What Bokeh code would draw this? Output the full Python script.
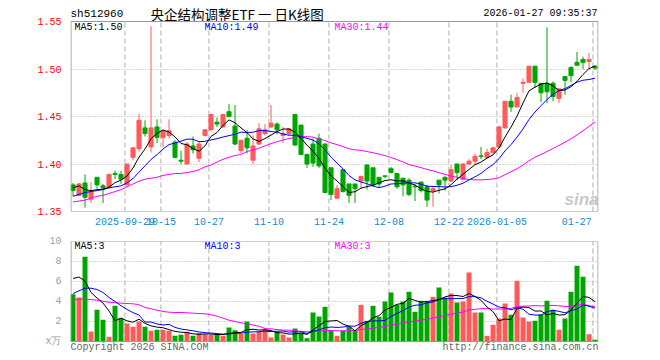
import numpy as np
import pandas as pd
from bokeh.plotting import figure
from bokeh.layouts import column
from bokeh.models import (ColumnDataSource, FixedTicker, PrintfTickFormatter, Label,
                          Range1d, BoxAnnotation)
from bokeh.core.properties import value
from bokeh.embed import file_html
from bokeh.resources import INLINE

# ---------------- data ----------------
opens = [1.378, 1.367, 1.380, 1.363, 1.386, 1.377, 1.376, 1.390, 1.389, 1.378,
         1.407, 1.416, 1.438, 1.418, 1.439, 1.428, 1.430, 1.423, 1.404, 1.400,
         1.419, 1.406, 1.430, 1.436, 1.444, 1.439, 1.455, 1.440, 1.414, 1.427,
         1.404, 1.421, 1.432, 1.439, 1.442, 1.430, 1.432, 1.452, 1.441, 1.410,
         1.421, 1.427, 1.421, 1.396, 1.364, 1.394, 1.379, 1.379, 1.382, 1.399,
         1.396, 1.386, 1.3875, 1.395, 1.390, 1.385, 1.383, 1.3765, 1.381, 1.376,
         1.372, 1.383, 1.386, 1.382, 1.400, 1.384, 1.400, 1.403, 1.4085, 1.407,
         1.412, 1.418, 1.438, 1.466, 1.460, 1.485, 1.486, 1.503, 1.485, 1.485,
         1.485, 1.469, 1.492, 1.5015, 1.507, 1.510, 1.508, 1.503]
highs = [1.380, 1.380, 1.389, 1.381, 1.386, 1.379, 1.390, 1.393, 1.393, 1.400,
         1.418, 1.453, 1.446, 1.545, 1.447, 1.436, 1.447, 1.425, 1.414, 1.423,
         1.429, 1.423, 1.437, 1.453, 1.449, 1.453, 1.463, 1.462, 1.425, 1.436,
         1.430, 1.443, 1.442, 1.462, 1.444, 1.439, 1.438, 1.452, 1.441, 1.411,
         1.427, 1.432, 1.422, 1.396, 1.378, 1.395, 1.379, 1.379, 1.387, 1.399,
         1.396, 1.386, 1.388, 1.397, 1.390, 1.385, 1.385, 1.379, 1.381, 1.378,
         1.376, 1.383, 1.387, 1.399, 1.400, 1.401, 1.405, 1.411, 1.418, 1.416,
         1.418, 1.440, 1.466, 1.473, 1.475, 1.490, 1.503, 1.503, 1.485, 1.544,
         1.487, 1.480, 1.492, 1.503, 1.518, 1.513, 1.517, 1.504]
lows = [1.366, 1.366, 1.354, 1.359, 1.374, 1.359, 1.374, 1.384, 1.379, 1.377,
        1.404, 1.413, 1.429, 1.412, 1.422, 1.418, 1.427, 1.406, 1.400, 1.400,
        1.411, 1.402, 1.429, 1.435, 1.439, 1.438, 1.449, 1.420, 1.411, 1.411,
        1.400, 1.420, 1.430, 1.438, 1.431, 1.422, 1.430, 1.419, 1.410, 1.396,
        1.397, 1.396, 1.369, 1.362, 1.363, 1.370, 1.359, 1.359, 1.374, 1.373,
        1.376, 1.375, 1.385, 1.390, 1.374, 1.366, 1.366, 1.361, 1.370, 1.355,
        1.355, 1.369, 1.372, 1.381, 1.383, 1.383, 1.399, 1.399, 1.405, 1.406,
        1.411, 1.417, 1.437, 1.455, 1.460, 1.475, 1.486, 1.480, 1.465, 1.464,
        1.466, 1.464, 1.473, 1.486, 1.503, 1.500, 1.500, 1.499]
closes = [1.372, 1.379, 1.365, 1.371, 1.378, 1.375, 1.389, 1.389, 1.384, 1.400,
          1.417, 1.446, 1.432, 1.438, 1.428, 1.435, 1.435, 1.407, 1.403, 1.421,
          1.415, 1.421, 1.436, 1.452, 1.442, 1.452, 1.450, 1.421, 1.425, 1.417,
          1.419, 1.437, 1.436, 1.443, 1.436, 1.432, 1.437, 1.420, 1.410, 1.400,
          1.401, 1.398, 1.370, 1.368, 1.374, 1.371, 1.367, 1.374, 1.387, 1.382,
          1.378, 1.379, 1.387, 1.391, 1.376, 1.378, 1.368, 1.376, 1.372, 1.362,
          1.374, 1.378, 1.383, 1.394, 1.391, 1.400, 1.403, 1.408, 1.408, 1.412,
          1.417, 1.439, 1.466, 1.460, 1.470, 1.486, 1.503, 1.486, 1.475, 1.476,
          1.471, 1.479, 1.488, 1.493, 1.504, 1.507, 1.510, 1.501]
volumes = [4.73, 4.40, 8.47, 1.00, 3.17, 2.17, 0.47, 3.57, 2.33, 1.80,
           1.47, 2.00, 1.47, 1.07, 1.17, 1.17, 1.07, 0.57, 0.67, 0.97,
           0.57, 0.83, 0.73, 0.67, 0.67, 0.57, 1.40, 1.13, 0.80, 2.00,
           0.80, 1.00, 1.23, 0.40, 0.97, 0.70, 0.40, 1.30, 0.83, 0.33,
           2.90, 2.50, 3.47, 1.07, 0.57, 1.07, 1.47, 1.13, 3.67, 2.07,
           3.57, 2.47, 4.00, 4.90, 3.67, 4.00, 4.97, 2.97, 4.07, 3.97,
           4.47, 5.40, 4.40, 4.80, 3.90, 4.00, 6.90, 2.90, 2.90, 0.57,
           1.67, 2.30, 3.80, 2.67, 6.07, 2.40, 2.00, 2.07, 2.73, 4.07,
           3.17, 1.17, 2.30, 4.97, 7.57, 6.47, 0.73, 0.17]

ma5_head = [1.375, 1.377, 1.373, 1.372]
ma10_head = [1.366, 1.368, 1.370, 1.371, 1.372, 1.373, 1.375, 1.376, 1.377]
ma30_head = [1.360, 1.361, 1.362, 1.364, 1.366, 1.367, 1.369, 1.371, 1.373, 1.376,
             1.379, 1.382, 1.384, 1.385, 1.386, 1.388, 1.389, 1.390, 1.390, 1.391,
             1.392, 1.394, 1.397, 1.399, 1.402, 1.405, 1.407, 1.409, 1.410]
vma5_head = [6.30, 6.45, 6.05, 4.90]
vma10_head = [4.80, 5.07, 5.33, 5.33, 5.20, 4.90, 4.40, 4.00, 3.57]
vma30_head = [4.13, 4.23, 4.23, 4.20, 4.13, 4.03, 3.93, 3.87, 3.83, 3.80,
              3.77, 3.67, 3.40, 3.27, 3.13, 3.00, 2.93, 2.90, 2.90, 2.87,
              2.83, 2.80, 2.77, 2.67, 2.53, 2.33, 2.13, 2.00, 1.87]

date_tick_days = [9, 15, 23, 33, 43, 53, 63, 71, 87]
date_tick_labels = ["2025-09-29", "10-15", "10-27", "11-10", "11-24", "12-08",
                    "12-22", "2026-01-05", "01-27"]
price_ticks = [1.35, 1.40, 1.45, 1.50, 1.55]
vol_ticks = [0, 2, 4, 6, 8, 10]

title_text = "央企结构调整ETF 一 日K线图"
code_text = "sh512960"
time_text = "2026-01-27 09:35:37"
ma_price_texts = ["MA5:1.50", "MA10:1.49", "MA30:1.44"]
ma_vol_texts = ["MA5:3", "MA10:3", "MA30:3"]
vol_unit_text = "x万"
copyright_text = "Copyright 2026 SINA.COM"
url_text = "http://finance.sina.com.cn"

# ---------------- styling / layout ----------------
UP, DOWN = "#ff5a5a", "#00a600"
MA_COLORS = ["#000000", "#0000ff", "#ff00ff"]
GRID = "#b0b0b0"
BORDER = "#999999"
MONO = "Liberation Mono"
W = 660
FR_L, FR_R = 70, 598            # panel left / right edge (px)
P_TOP, P_BOT = 21, 211          # price panel top / bottom (px)
V_TOP, V_BOT = 241, 341         # volume panel top / bottom (px)
P_FIG_H = 231                   # price figure covers y 0..231
V_FIG_H = 360 - P_FIG_H         # volume figure covers y 231..360
X0, X1 = -0.42, 87.58
PMIN, PMAX = 1.35, 1.55
VMIN, VMAX = 0, 10

p_per_px = (PMAX - PMIN) / (P_BOT - P_TOP)
v_per_px = (VMAX - VMIN) / (V_BOT - V_TOP)


def moving(values, window, head):
    out = pd.Series(values, dtype=float).rolling(window).mean().to_numpy()
    out[:len(head)] = head
    return out


def sx(px):
    return X0 + (px - FR_L) / (FR_R - FR_L) * (X1 - X0)


def sy_price(py):
    return PMAX - (py - P_TOP) * p_per_px


def sy_vol(py):
    return VMAX - (py - V_TOP) * v_per_px


n = len(closes)
idx = np.arange(n)
o = np.array(opens)
c = np.array(closes)
colors = np.where(c >= o, UP, DOWN)
src = ColumnDataSource(dict(x=idx, o=o, h=highs, l=lows, c=c,
                            top=np.maximum(o, c), bottom=np.minimum(o, c),
                            color=colors, vol=volumes))

grid_pos = [round(d - 0.35, 2) for d in date_tick_days]
label_pos = list(grid_pos)
label_pos[-1] = round(label_pos[-1] - 2.7, 2)

xr = Range1d(X0, X1)


def base_fig(height, y_start, y_end, top, bottom):
    f = figure(width=W, height=height, x_range=xr, y_range=Range1d(y_start, y_end),
               output_backend="svg", toolbar_location=None,
               min_border_left=FR_L, min_border_right=W - FR_R,
               min_border_top=top, min_border_bottom=bottom)
    f.background_fill_color = "white"
    f.border_fill_color = "white"
    f.outline_line_color = None
    f.xgrid.visible = False
    f.ygrid.grid_line_color = GRID
    f.ygrid.grid_line_dash = "1 2"
    for ax in (f.xaxis, f.yaxis):
        ax.axis_line_color = None
        ax.major_tick_line_color = None
        ax.minor_tick_line_color = None
        ax.major_label_text_font = MONO
        ax.major_label_text_font_size = "10px"
    f.yaxis.major_label_standoff = 3
    return f


def add_text(f, px, y, txt, color, size="10px", font=MONO, align="left", style="normal"):
    f.text(x=[sx(px)], y=[y], text=[txt], text_font=value(font),
           text_font_size=value(size), text_color=color, text_align=align,
           text_baseline="middle", text_font_style=style)


# ---------------- price panel (frame runs from the top of the page down to the date axis) ----------------
p = base_fig(P_FIG_H, PMIN, PMAX + P_TOP * p_per_px, 0, P_FIG_H - P_BOT)
p.ygrid.ticker = FixedTicker(ticks=price_ticks[1:-1])
p.yaxis.ticker = FixedTicker(ticks=price_ticks)
p.yaxis.formatter = PrintfTickFormatter(format="%.2f")
p.yaxis.major_label_text_color = "#ff0000"
p.xaxis.ticker = FixedTicker(ticks=label_pos)
p.xaxis.major_label_overrides = {pos: lab for pos, lab in zip(label_pos, date_tick_labels)}
p.xaxis.major_label_text_color = "#1a88d0"
p.xaxis.major_label_standoff = 0

p.segment(x0=grid_pos, y0=PMIN, x1=grid_pos, y1=PMAX, line_color=GRID, line_dash="5 3")
p.segment(x0="x", y0="l", x1="x", y1="h", line_color="color", line_width=1, source=src)
p.vbar(x="x", width=0.68, top="top", bottom="bottom", fill_color="color",
       line_color="color", line_width=1, source=src)

pma = [moving(closes, 30, ma30_head), moving(closes, 10, ma10_head), moving(closes, 5, ma5_head)]
for line_vals, col in zip(pma, MA_COLORS[::-1]):
    p.line(idx, line_vals, line_color=col, line_width=1)

p.add_layout(BoxAnnotation(left=sx(FR_L + 0.5), right=sx(FR_R - 0.5), bottom=PMIN, top=PMAX,
                           fill_alpha=0, line_color=BORDER, line_width=1, line_alpha=1))

add_text(p, 70, sy_price(13), code_text, "#000000", size="11px")
add_text(p, 150, sy_price(13), title_text, "#000000", size="13.5px", font="Noto Sans CJK SC")
add_text(p, 597, sy_price(13), time_text, "#000000", align="right")
for txt, col, px in zip(ma_price_texts, MA_COLORS, [74, 204, 334]):
    add_text(p, px, sy_price(27), txt, col)
add_text(p, 581, sy_price(199), "sina", "#c8c8c8", size="17px", font="Liberation Sans",
         align="center", style="bold italic")

# ---------------- volume panel (frame runs from its top down to the page bottom) ----------------
v = base_fig(V_FIG_H, VMIN - (360 - V_BOT) * v_per_px, VMAX, V_TOP - P_FIG_H, 0)
v.ygrid.ticker = FixedTicker(ticks=vol_ticks[1:-1])
v.yaxis.ticker = FixedTicker(ticks=vol_ticks)
v.yaxis.major_label_overrides = {0: vol_unit_text}
v.yaxis.major_label_text_color = "#a0a0a0"
v.xaxis.visible = False

v.segment(x0=grid_pos, y0=VMIN, x1=grid_pos, y1=VMAX, line_color=GRID, line_dash="5 3")
v.vbar(x="x", width=0.83, top="vol", bottom=0, fill_color="color", line_color=None, source=src)
vma = [moving(volumes, 30, vma30_head), moving(volumes, 10, vma10_head), moving(volumes, 5, vma5_head)]
for line_vals, col in zip(vma, MA_COLORS[::-1]):
    v.line(idx, line_vals, line_color=col, line_width=1)

v.add_layout(BoxAnnotation(left=sx(FR_L + 0.5), right=sx(FR_R - 0.5), bottom=VMIN, top=VMAX,
                           fill_alpha=0, line_color=BORDER, line_width=1, line_alpha=1))

for txt, col, px in zip(ma_vol_texts, MA_COLORS, [74, 204, 334]):
    add_text(v, px, sy_vol(246), txt, col)
add_text(v, 70, sy_vol(347), copyright_text, "#666666")
add_text(v, 598, sy_vol(347), url_text, "#666666", align="right")

layout = column(p, v, spacing=0)
open("out.html", "w").write(file_html(layout, INLINE))
